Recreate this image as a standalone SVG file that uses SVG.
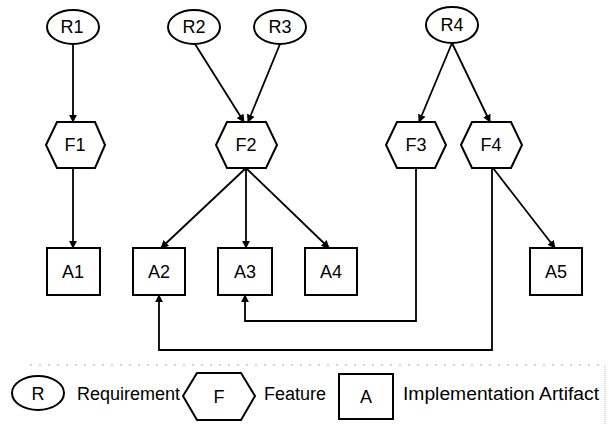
<svg xmlns="http://www.w3.org/2000/svg" width="609" height="424" viewBox="0 0 609 424">
  <defs>
    <marker id="arrow" viewBox="0 0 10 10" refX="9" refY="5" markerWidth="4.5" markerHeight="4.5" orient="auto" markerUnits="strokeWidth">
      <path d="M0,0 L10,5 L0,10 z" fill="#000"/>
    </marker>
  </defs>
  <style>
    .shape { fill: #fff; stroke: #000; stroke-width: 2; }
    .edge { fill: none; stroke: #000; stroke-width: 1.8; marker-end: url(#arrow); }
    .label { font-family: "Liberation Sans", Arial, sans-serif; font-size: 18px; text-anchor: middle; fill: #000; }
    .legend { font-family: "Liberation Sans", Arial, sans-serif; font-size: 18px; fill: #000; }
  </style>
  <rect width="609" height="424" fill="#fff"/>

  <!-- connectors -->
  <g id="connectors">
    <path class="edge" d="M73,44 L73,122"/>
    <path class="edge" d="M195,44 L244,122"/>
    <path class="edge" d="M280,44 L248,122"/>
    <path class="edge" d="M452,43 L419,122"/>
    <path class="edge" d="M452,43 L490,122"/>
    <path class="edge" d="M73,168 L73,248"/>
    <path class="edge" d="M246,168 L161,248"/>
    <path class="edge" d="M246,168 L246,248"/>
    <path class="edge" d="M246,168 L329,248"/>
    <path class="edge" d="M493,168 L555,248"/>
    <path class="edge" d="M416,168 L416,321 L245,321 L245,295"/>
    <path class="edge" d="M492,168 L492,350 L159,350 L159,295"/>
  </g>

  <!-- requirements -->
  <g id="R1"><ellipse class="shape" cx="73" cy="27" rx="26" ry="17"/><text class="label" x="72" y="33">R1</text></g>
  <g id="R2"><ellipse class="shape" cx="194" cy="27" rx="26" ry="17"/><text class="label" x="194" y="33">R2</text></g>
  <g id="R3"><ellipse class="shape" cx="280" cy="27" rx="26" ry="17"/><text class="label" x="280" y="33">R3</text></g>
  <g id="R4"><ellipse class="shape" cx="452" cy="25" rx="26" ry="18"/><text class="label" x="452" y="31">R4</text></g>

  <!-- features -->
  <g id="F1"><polygon class="shape" points="46,145 57,122 95,122 105,145 95,168 57,168"/><text class="label" x="75" y="151">F1</text></g>
  <g id="F2"><polygon class="shape" points="216,145 227,122 266,122 277,145 266,168 227,168"/><text class="label" x="246" y="151">F2</text></g>
  <g id="F3"><polygon class="shape" points="386,145 397,122 435,122 446,145 435,168 397,168"/><text class="label" x="416" y="151">F3</text></g>
  <g id="F4"><polygon class="shape" points="461,145 472,122 511,122 522,145 511,168 472,168"/><text class="label" x="491" y="151">F4</text></g>

  <!-- implementation artifacts -->
  <g id="A1"><rect class="shape" x="47" y="248" width="53" height="47"/><text class="label" x="73" y="278">A1</text></g>
  <g id="A2"><rect class="shape" x="133" y="248" width="52" height="47"/><text class="label" x="159" y="278">A2</text></g>
  <g id="A3"><rect class="shape" x="218" y="248" width="54" height="47"/><text class="label" x="245" y="278">A3</text></g>
  <g id="A4"><rect class="shape" x="305" y="248" width="52" height="47"/><text class="label" x="331" y="278">A4</text></g>
  <g id="A5"><rect class="shape" x="530" y="248" width="52" height="47"/><text class="label" x="556" y="278">A5</text></g>

  <!-- legend frame -->
  <line x1="30" y1="365" x2="604" y2="365" stroke="#aaa" stroke-width="1" stroke-dasharray="2 7"/>
  <line x1="605" y1="365" x2="605" y2="424" stroke="#bbb" stroke-width="1" stroke-dasharray="1 1"/>

  <!-- legend -->
  <g id="legend">
    <ellipse class="shape" cx="38" cy="393" rx="26" ry="17"/>
    <text class="label" x="38" y="400">R</text>
    <text class="legend" x="77" y="400">Requirement</text>
    <polygon class="shape" points="183,396 197,373 241,373 255,396 241,420 197,420"/>
    <text class="label" x="219" y="403">F</text>
    <text class="legend" x="264" y="400">Feature</text>
    <rect class="shape" x="339" y="374" width="54" height="45"/>
    <text class="label" x="366" y="403">A</text>
    <text class="legend" x="403" y="400" textLength="196" lengthAdjust="spacingAndGlyphs">Implementation Artifact</text>
  </g>
</svg>
